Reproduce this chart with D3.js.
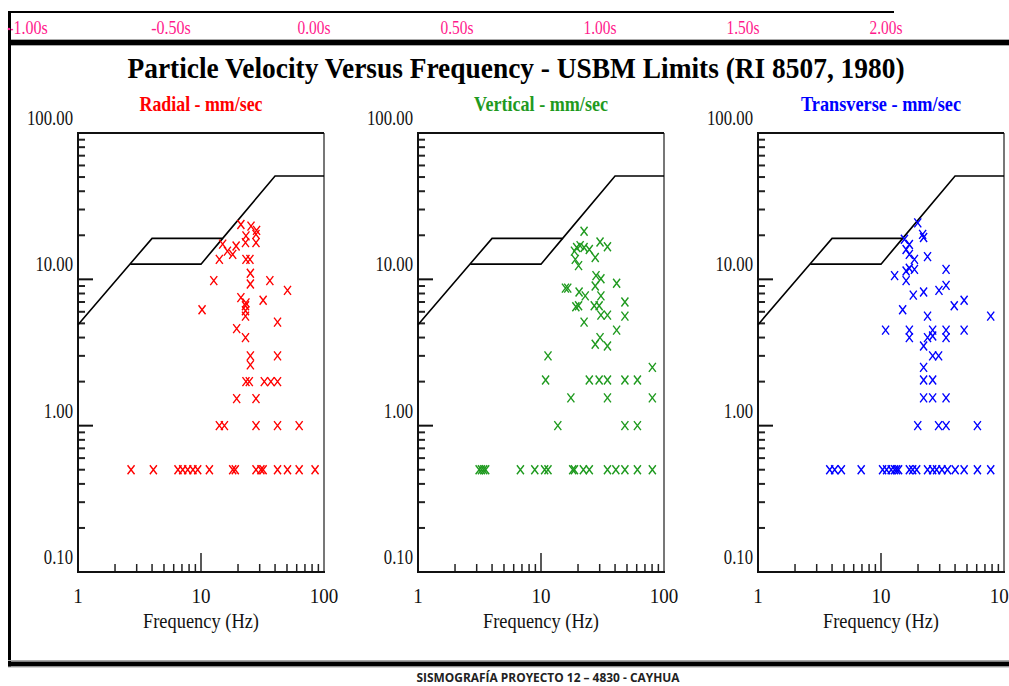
<!DOCTYPE html>
<html>
<head>
<meta charset="utf-8">
<script src="https://cdn.jsdelivr.net/npm/d3@7"></script>
<style>
  body { margin: 0; background: #fff; }
</style>
</head>
<body>
<div id="chart"></div>
<script>
// Define workspace area
var svgWidth = 1009;
var svgHeight = 686;

// time strip along the top
var timeValues = [-1, -0.5, 0, 0.5, 1, 1.5, 2];
var timeLabels = ["-1.00s", "-0.50s", "0.00s", "0.50s", "1.00s", "1.50s", "2.00s"];

// axis ticks
var yTickValues = [100, 10, 1, 0.1];
var yTickLabels = ["100.00", "10.00", "1.00", "0.10"];
var xTickValues = [1, 10, 100];
var xTickLabels = ["1", "10", "100"];

// USBM RI 8507 limits (Hz, mm/sec)
var limitFreq = [1, 4, 15, 40, 100];
var limitVel = [4.9, 19.05, 19.05, 50.8, 50.8];
var plasterFreq = [2.66, 10, 15];
var plasterVel = [12.7, 12.7, 19.05];

// Radial
var radialFreq = [2.7, 4.1, 6.5, 7.1, 7.8, 8.6, 9.4, 11.7, 18.1, 19.0, 28.0, 30.7, 32.0, 41.9, 50.5, 62.8, 84.6,
  14.1, 15.5, 28.0, 41.9, 62.8,
  19.5, 28.0,
  23.2, 24.7, 32.7, 37.0, 41.9,
  25.2, 25.2, 41.9, 23.0, 19.5, 41.9, 23.0, 23.0, 23.0, 23.2, 21.1, 32.0, 10.2, 50.5, 36.3, 25.2,
  25.2, 12.7, 23.2, 25.0, 14.1, 15.0, 16.4, 18.1, 19.3, 23.0, 23.2, 28.0, 28.0, 25.5, 28.3, 21.1];
var radialVel = [0.5, 0.5, 0.5, 0.5, 0.5, 0.5, 0.5, 0.5, 0.5, 0.5, 0.5, 0.5, 0.5, 0.5, 0.5, 0.5, 0.5,
  1.0, 1.0, 1.0, 1.0, 1.0,
  1.53, 1.53,
  2.0, 2.0, 2.0, 2.0, 2.0,
  2.6, 3.0, 3.0, 4.0, 4.6, 5.1, 5.6, 6.1, 6.6, 6.9, 7.5, 7.2, 6.2, 8.4, 9.8, 9.3,
  11.0, 9.8, 13.7, 13.7, 13.7, 17.4, 15.6, 14.8, 16.9, 17.8, 19.8, 20.3, 17.8, 23.1, 21.6, 23.7];

// Vertical
var verticalFreq = [3.14, 3.28, 3.42, 3.55, 6.8, 8.9, 10.7, 11.4, 18.1, 18.7, 22.1, 24.7, 34.7, 40.6, 48.1, 60.8, 80.4,
  13.7, 48.1, 60.8,
  17.5, 34.7, 80.4,
  10.9, 24.7, 29.7, 34.7, 48.1, 60.8,
  80.4, 11.4, 27.6, 30.2, 34.7, 41.2, 22.4, 48.1, 30.7, 34.7, 19.2, 20.2, 27.1, 29.7, 48.1,
  15.8, 16.5, 20.4, 22.9, 30.7, 27.6, 30.7, 28.0, 41.2, 20.2, 19.0, 18.7, 19.5, 20.8, 22.4,
  24.7, 27.6, 30.2, 34.7, 22.4];
var verticalVel = [0.5, 0.5, 0.5, 0.5, 0.5, 0.5, 0.5, 0.5, 0.5, 0.5, 0.5, 0.5, 0.5, 0.5, 0.5, 0.5, 0.5,
  1.0, 1.0, 1.0,
  1.55, 1.55, 1.55,
  2.05, 2.05, 2.05, 2.05, 2.05, 2.05,
  2.5, 3.0, 3.6, 4.0, 3.5, 4.5, 5.1, 5.6, 5.7, 5.7, 6.5, 6.6, 6.6, 6.6, 7.0,
  8.7, 8.7, 8.2, 7.7, 7.7, 9.0, 10.1, 10.6, 9.4, 12.4, 13.7, 15.6, 16.5, 17.0, 16.5,
  16.0, 14.1, 18.0, 16.7, 21.3];

// Transverse
var transverseFreq = [3.83, 4.2, 4.76, 6.9, 10.3, 11.1, 12.1, 12.9, 13.4, 13.9, 17.0, 18.1, 19.5, 23.9, 26.3, 28.3, 31.3, 34.7, 40.1, 47.4, 60.8, 78.0,
  19.9, 29.4, 33.8, 60.8,
  22.2, 26.3, 33.8,
  22.2, 26.3,
  22.2, 26.3, 29.4, 22.2, 17.0, 23.9, 26.3, 33.8, 10.9, 17.0, 26.3, 33.8, 47.4, 23.9, 78.0,
  15.0, 39.4, 47.4, 18.3, 22.2, 29.6, 33.8, 12.9, 16.0, 16.0, 18.7, 17.0, 33.8, 18.7, 17.0,
  16.0, 23.9, 15.5, 17.0, 21.8, 22.2, 19.9];
var transverseVel = [0.5, 0.5, 0.5, 0.5, 0.5, 0.5, 0.5, 0.5, 0.5, 0.5, 0.5, 0.5, 0.5, 0.5, 0.5, 0.5, 0.5, 0.5, 0.5, 0.5, 0.5, 0.5,
  1.0, 1.0, 1.0, 1.0,
  1.55, 1.55, 1.55,
  2.05, 2.05,
  2.5, 3.0, 3.0, 3.5, 4.0, 4.0, 4.1, 4.0, 4.5, 4.5, 4.5, 4.5, 4.5, 5.6, 5.6,
  6.2, 6.6, 7.2, 7.8, 8.2, 8.4, 9.1, 10.6, 9.8, 11.4, 11.7, 11.9, 11.7, 13.7, 14.8,
  16.0, 14.3, 18.8, 17.3, 20.3, 19.3, 24.3];

var panelTitles = ["Radial - mm/sec", "Vertical - mm/sec", "Transverse - mm/sec"];
var panelColors = ["#ff0000", "#1f9a1f", "#0000ff"];
var panelFreqs = [radialFreq, verticalFreq, transverseFreq];
var panelVels = [radialVel, verticalVel, transverseVel];

// layout
var panelLeft = [78, 418, 758];
var panelWidth = 246;
var plotTop = 133;
var plotBottom = 572;
var serif = "'Liberation Serif', 'DejaVu Serif', serif";

var svg = d3.select("#chart")
  .append("svg")
  .attr("width", svgWidth)
  .attr("height", svgHeight);

// outer frame
svg.append("line").attr("x1", 8).attr("x2", 894).attr("y1", 12).attr("y2", 12)
  .attr("stroke", "#000").attr("stroke-width", 2);
svg.append("line").attr("x1", 9.5).attr("x2", 9.5).attr("y1", 11).attr("y2", 667)
  .attr("stroke", "#000").attr("stroke-width", 3);
[[39.5, 1, "#aaa"], [42.5, 5, "#000"], [45.5, 1, "#aaa"],
 [660.5, 1, "#aaa"], [664, 5, "#000"], [667, 1, "#aaa"]].forEach(function(l) {
  svg.append("line").attr("x1", 8).attr("x2", svgWidth).attr("y1", l[0]).attr("y2", l[0])
    .attr("stroke", l[2]).attr("stroke-width", l[1]);
});

// time labels
var xTime = d3.scaleLinear().domain([-1, 2]).range([28, 886]);
svg.append("g").selectAll("text")
  .data(timeValues)
  .enter()
  .append("text")
  .attr("x", d => xTime(d))
  .attr("y", 34)
  .attr("text-anchor", "middle")
  .attr("font-family", serif)
  .attr("font-size", "18px")
  .attr("fill", "#ff1a8c")
  .attr("textLength", (d, i) => timeLabels[i].length * 6.6)
  .attr("lengthAdjust", "spacingAndGlyphs")
  .text((d, i) => timeLabels[i]);
// cover the part of the first label left of the frame
svg.append("rect").attr("x", 0).attr("y", 13).attr("width", 8).attr("height", 26).attr("fill", "#fff");
svg.append("line").attr("x1", 9.5).attr("x2", 9.5).attr("y1", 11).attr("y2", 46)
  .attr("stroke", "#000").attr("stroke-width", 3);
svg.append("circle").attr("cx", 9).attr("cy", 29).attr("r", 1.3).attr("fill", "#ff1a8c");

// main title
svg.append("text")
  .attr("x", 516)
  .attr("y", 78)
  .attr("text-anchor", "middle")
  .attr("font-family", serif)
  .attr("font-weight", "bold")
  .attr("font-size", "30px")
  .attr("textLength", 777)
  .attr("lengthAdjust", "spacingAndGlyphs")
  .text("Particle Velocity Versus Frequency - USBM Limits (RI 8507, 1980)");

var titleWidths = [123, 134, 160];
var minorDigits = [2, 3, 4, 5, 6, 7, 8, 9];

panelTitles.forEach(function(title, p) {
  var left = panelLeft[p];
  var xScale = d3.scaleLog().domain([1, 100]).range([left, left + panelWidth]);
  var yScale = d3.scaleLog().domain([0.1, 100]).range([plotBottom, plotTop]);
  var g = svg.append("g");

  // panel title
  g.append("text")
    .attr("x", xScale(10))
    .attr("y", 111)
    .attr("text-anchor", "middle")
    .attr("font-family", serif)
    .attr("font-weight", "bold")
    .attr("font-size", "21px")
    .attr("fill", panelColors[p])
    .attr("textLength", titleWidths[p])
    .attr("lengthAdjust", "spacingAndGlyphs")
    .text(title);

  // y minor + major ticks (inside, from left axis)
  var yMinor = [];
  [0.1, 1, 10].forEach(function(dec) {
    minorDigits.forEach(function(m) { yMinor.push(m * dec); });
  });
  g.selectAll("line.ymin")
    .data(yMinor)
    .enter()
    .append("line")
    .attr("x1", left).attr("x2", left + 7)
    .attr("y1", d => yScale(d)).attr("y2", d => yScale(d))
    .attr("stroke", "#222").attr("stroke-width", 2);
  g.selectAll("line.ymaj")
    .data([1, 10])
    .enter()
    .append("line")
    .attr("x1", left).attr("x2", left + 15)
    .attr("y1", d => yScale(d)).attr("y2", d => yScale(d))
    .attr("stroke", "#111").attr("stroke-width", 2);

  // x minor + major ticks (upward from bottom axis)
  var xMinor = [];
  [1, 10].forEach(function(dec) {
    minorDigits.forEach(function(m) { xMinor.push(m * dec); });
  });
  g.selectAll("line.xmin")
    .data(xMinor)
    .enter()
    .append("line")
    .attr("x1", d => xScale(d)).attr("x2", d => xScale(d))
    .attr("y1", plotBottom).attr("y2", plotBottom - 8)
    .attr("stroke", "#222").attr("stroke-width", 1.5);
  g.append("line")
    .attr("x1", xScale(10)).attr("x2", xScale(10))
    .attr("y1", plotBottom).attr("y2", plotBottom - 19)
    .attr("stroke", "#222").attr("stroke-width", 1.5);

  // plot box
  g.append("line").attr("x1", xScale(100)).attr("x2", xScale(100))
    .attr("y1", plotTop).attr("y2", plotBottom)
    .attr("stroke", "#777").attr("stroke-width", 2);
  g.append("line").attr("x1", left).attr("x2", xScale(100))
    .attr("y1", plotTop).attr("y2", plotTop)
    .attr("stroke", "#111").attr("stroke-width", 2);
  g.append("line").attr("x1", left).attr("x2", xScale(100) + 1)
    .attr("y1", plotBottom).attr("y2", plotBottom)
    .attr("stroke", "#111").attr("stroke-width", 2);
  g.append("line").attr("x1", left).attr("x2", left)
    .attr("y1", plotTop - 1).attr("y2", plotBottom + 1)
    .attr("stroke", "#111").attr("stroke-width", 2);

  // y tick labels (sit above their ticks)
  g.selectAll("text.ylab")
    .data(yTickValues)
    .enter()
    .append("text")
    .attr("x", left - 5)
    .attr("y", d => yScale(d) - 8)
    .attr("text-anchor", "end")
    .attr("font-family", serif)
    .attr("font-size", "21px")
    .attr("fill", "#111")
    .attr("textLength", (d, i) => (yTickLabels[i].length - 1) * 8.4 + 4)
    .attr("lengthAdjust", "spacingAndGlyphs")
    .text((d, i) => yTickLabels[i]);

  // x tick labels
  g.selectAll("text.xlab")
    .data(xTickValues)
    .enter()
    .append("text")
    .attr("x", d => xScale(d))
    .attr("y", 603)
    .attr("text-anchor", "middle")
    .attr("font-family", serif)
    .attr("font-size", "21px")
    .attr("fill", "#111")
    .attr("textLength", (d, i) => xTickLabels[i].length * 9.5)
    .attr("lengthAdjust", "spacingAndGlyphs")
    .text((d, i) => xTickLabels[i]);

  // x axis title
  g.append("text")
    .attr("x", xScale(10))
    .attr("y", 628)
    .attr("text-anchor", "middle")
    .attr("font-family", serif)
    .attr("font-size", "21px")
    .attr("fill", "#111")
    .attr("textLength", 116)
    .attr("lengthAdjust", "spacingAndGlyphs")
    .text("Frequency (Hz)");

  // USBM limit lines
  var line = d3.line()
    .x(d => xScale(d[0]))
    .y(d => yScale(d[1]));
  g.append("path")
    .datum(d3.zip(limitFreq, limitVel))
    .attr("d", line)
    .attr("fill", "none")
    .attr("stroke", "#000")
    .attr("stroke-width", 1.6);
  g.append("path")
    .datum(d3.zip(plasterFreq, plasterVel))
    .attr("d", line)
    .attr("fill", "none")
    .attr("stroke", "#000")
    .attr("stroke-width", 1.6);

  // x markers for each event
  g.selectAll("path.pt")
    .data(d3.zip(panelFreqs[p], panelVels[p]))
    .enter()
    .append("path")
    .attr("transform", d => `translate(${xScale(d[0])}, ${yScale(d[1])})`)
    .attr("d", "M-3.5,-4.5L3.5,4.5M3.5,-4.5L-3.5,4.5")
    .attr("fill", "none")
    .attr("stroke", panelColors[p])
    .attr("stroke-width", 1.4);
});

// footer
svg.append("text")
  .attr("x", 548)
  .attr("y", 682)
  .attr("text-anchor", "middle")
  .attr("font-family", "'Open Sans', 'Liberation Sans', sans-serif")
  .attr("font-weight", "bold")
  .attr("font-size", "13px")
  .attr("fill", "#222")
  .attr("textLength", 263)
  .attr("lengthAdjust", "spacingAndGlyphs")
  .text("SISMOGRAFÍA PROYECTO 12 – 4830 - CAYHUA");
</script>
</body>
</html>
